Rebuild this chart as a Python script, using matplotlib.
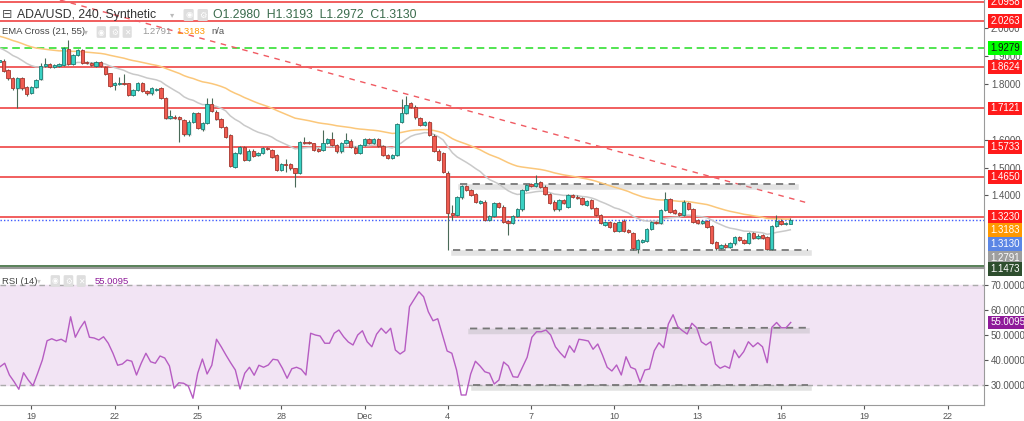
import numpy as np
import matplotlib
matplotlib.use('Agg')
import matplotlib.pyplot as plt
import matplotlib.transforms as mtransforms

W, H = 1024, 421

# 4h candles ADA/USD, last one = Dec 16 08:00
opens = [1.879, 1.884, 1.850, 1.820, 1.784, 1.820, 1.790, 1.769, 1.788, 1.817,
         1.865, 1.872, 1.862, 1.864, 1.868, 1.926, 1.872, 1.904, 1.922, 1.879,
         1.876, 1.866, 1.879, 1.862, 1.838, 1.796, 1.800, 1.805, 1.802, 1.760,
         1.778, 1.804, 1.776, 1.766, 1.780, 1.787, 1.751, 1.677, 1.683, 1.680,
         1.671, 1.619, 1.665, 1.697, 1.637, 1.661, 1.728, 1.701, 1.674, 1.644,
         1.617, 1.503, 1.551, 1.573, 1.527, 1.561, 1.544, 1.553, 1.571, 1.563,
         1.545, 1.491, 1.512, 1.512, 1.497, 1.482, 1.593, 1.591, 1.587, 1.567,
         1.563, 1.589, 1.601, 1.581, 1.558, 1.589, 1.597, 1.572, 1.554, 1.581,
         1.601, 1.587, 1.601, 1.578, 1.544, 1.534, 1.544, 1.664, 1.695, 1.731,
         1.719, 1.677, 1.653, 1.664, 1.615, 1.561, 1.551, 1.482, 1.336, 1.330,
         1.393, 1.434, 1.418, 1.404, 1.374, 1.378, 1.312, 1.326, 1.374, 1.360,
         1.308, 1.302, 1.326, 1.350, 1.420, 1.440, 1.435, 1.447, 1.432, 1.404,
         1.378, 1.350, 1.384, 1.360, 1.402, 1.396, 1.392, 1.366, 1.384, 1.354,
         1.330, 1.294, 1.306, 1.302, 1.274, 1.310, 1.276, 1.266, 1.207, 1.234,
         1.237, 1.279, 1.306, 1.300, 1.348, 1.386, 1.348, 1.338, 1.330, 1.372,
         1.352, 1.312, 1.300, 1.308, 1.290, 1.234, 1.212, 1.222, 1.214, 1.228,
         1.252, 1.240, 1.230, 1.266, 1.246, 1.258, 1.250, 1.207, 1.290, 1.310,
         1.298, 1.298]
closes = [1.886, 1.848, 1.820, 1.787, 1.820, 1.784, 1.764, 1.788, 1.814, 1.866,
          1.872, 1.862, 1.868, 1.872, 1.928, 1.872, 1.904, 1.922, 1.876, 1.874,
          1.867, 1.878, 1.864, 1.836, 1.793, 1.802, 1.805, 1.801, 1.760, 1.778,
          1.802, 1.776, 1.766, 1.784, 1.782, 1.749, 1.677, 1.685, 1.677, 1.673,
          1.619, 1.665, 1.697, 1.643, 1.661, 1.728, 1.704, 1.673, 1.647, 1.611,
          1.506, 1.551, 1.573, 1.527, 1.561, 1.542, 1.553, 1.569, 1.567, 1.537,
          1.491, 1.513, 1.509, 1.497, 1.482, 1.593, 1.587, 1.587, 1.563, 1.561,
          1.589, 1.601, 1.581, 1.558, 1.589, 1.598, 1.575, 1.554, 1.581, 1.601,
          1.587, 1.601, 1.578, 1.544, 1.534, 1.544, 1.656, 1.695, 1.726, 1.719,
          1.680, 1.653, 1.664, 1.617, 1.561, 1.527, 1.485, 1.336, 1.330, 1.393,
          1.434, 1.420, 1.402, 1.378, 1.380, 1.312, 1.326, 1.374, 1.360, 1.306,
          1.300, 1.326, 1.350, 1.420, 1.438, 1.435, 1.443, 1.432, 1.404, 1.374,
          1.350, 1.384, 1.372, 1.402, 1.396, 1.390, 1.368, 1.381, 1.354, 1.330,
          1.302, 1.306, 1.288, 1.274, 1.306, 1.272, 1.270, 1.210, 1.240, 1.240,
          1.280, 1.306, 1.300, 1.348, 1.386, 1.342, 1.336, 1.330, 1.378, 1.352,
          1.306, 1.300, 1.308, 1.288, 1.230, 1.210, 1.222, 1.214, 1.230, 1.252,
          1.240, 1.230, 1.266, 1.246, 1.256, 1.246, 1.207, 1.290, 1.310, 1.298,
          1.302, 1.313]
highs = [1.910, 1.888, 1.853, 1.824, 1.824, 1.826, 1.793, 1.792, 1.818, 1.874,
         1.892, 1.876, 1.872, 1.877, 1.932, 1.958, 1.908, 1.926, 1.925, 1.883,
         1.880, 1.882, 1.883, 1.865, 1.841, 1.806, 1.824, 1.836, 1.805, 1.782,
         1.806, 1.808, 1.780, 1.788, 1.786, 1.790, 1.754, 1.707, 1.687, 1.684,
         1.675, 1.669, 1.701, 1.700, 1.665, 1.748, 1.748, 1.705, 1.678, 1.648,
         1.620, 1.555, 1.577, 1.577, 1.565, 1.565, 1.557, 1.573, 1.575, 1.567,
         1.548, 1.517, 1.530, 1.515, 1.500, 1.597, 1.611, 1.595, 1.590, 1.571,
         1.635, 1.605, 1.626, 1.585, 1.593, 1.623, 1.601, 1.576, 1.585, 1.605,
         1.605, 1.605, 1.605, 1.582, 1.548, 1.548, 1.660, 1.745, 1.757, 1.735,
         1.723, 1.681, 1.668, 1.668, 1.619, 1.565, 1.555, 1.486, 1.366, 1.397,
         1.438, 1.438, 1.422, 1.408, 1.384, 1.382, 1.330, 1.378, 1.378, 1.364,
         1.312, 1.330, 1.354, 1.424, 1.442, 1.444, 1.473, 1.451, 1.436, 1.408,
         1.382, 1.388, 1.388, 1.406, 1.406, 1.400, 1.396, 1.385, 1.388, 1.358,
         1.334, 1.310, 1.310, 1.306, 1.310, 1.314, 1.280, 1.270, 1.244, 1.244,
         1.284, 1.310, 1.310, 1.352, 1.414, 1.390, 1.352, 1.342, 1.382, 1.376,
         1.356, 1.316, 1.312, 1.312, 1.294, 1.238, 1.226, 1.228, 1.234, 1.256,
         1.256, 1.244, 1.270, 1.270, 1.260, 1.262, 1.254, 1.294, 1.330, 1.314,
         1.306, 1.3193]
lows = [1.874, 1.844, 1.816, 1.778, 1.713, 1.780, 1.758, 1.765, 1.785, 1.814,
        1.862, 1.859, 1.858, 1.861, 1.865, 1.868, 1.868, 1.900, 1.872, 1.870,
        1.863, 1.862, 1.860, 1.832, 1.789, 1.778, 1.796, 1.797, 1.756, 1.756,
        1.774, 1.772, 1.762, 1.762, 1.776, 1.745, 1.673, 1.673, 1.673, 1.593,
        1.615, 1.615, 1.661, 1.639, 1.633, 1.657, 1.700, 1.669, 1.643, 1.607,
        1.502, 1.499, 1.547, 1.523, 1.523, 1.538, 1.540, 1.549, 1.563, 1.533,
        1.487, 1.487, 1.485, 1.493, 1.429, 1.478, 1.583, 1.583, 1.559, 1.557,
        1.559, 1.585, 1.577, 1.554, 1.554, 1.585, 1.571, 1.550, 1.550, 1.577,
        1.583, 1.583, 1.574, 1.540, 1.530, 1.530, 1.540, 1.660, 1.691, 1.715,
        1.676, 1.649, 1.649, 1.613, 1.557, 1.523, 1.481, 1.204, 1.312, 1.326,
        1.389, 1.416, 1.398, 1.374, 1.370, 1.308, 1.308, 1.322, 1.356, 1.302,
        1.258, 1.298, 1.322, 1.346, 1.416, 1.431, 1.431, 1.428, 1.400, 1.370,
        1.346, 1.346, 1.368, 1.356, 1.392, 1.386, 1.364, 1.362, 1.350, 1.326,
        1.298, 1.290, 1.284, 1.270, 1.270, 1.268, 1.266, 1.206, 1.195, 1.230,
        1.233, 1.275, 1.296, 1.296, 1.344, 1.338, 1.332, 1.326, 1.326, 1.348,
        1.302, 1.296, 1.296, 1.284, 1.226, 1.204, 1.208, 1.210, 1.210, 1.224,
        1.236, 1.226, 1.226, 1.242, 1.242, 1.242, 1.203, 1.203, 1.286, 1.294,
        1.294, 1.2972]

rsi = [37.3, 38.7, 34.0, 31.3, 28.3, 34.9, 32.0, 29.7, 34.7, 40.0,
       47.7, 48.5, 47.7, 48.3, 47.2, 57.3, 49.1, 52.7, 55.5, 49.1,
       48.8, 48.0, 49.3, 46.7, 42.7, 37.9, 38.4, 40.0, 39.5, 34.0,
       38.7, 42.7, 39.3, 38.7, 41.6, 40.8, 37.6, 28.7, 30.9, 30.7,
       29.6, 24.7, 34.7, 40.4, 34.4, 37.9, 48.3, 45.3, 42.0, 38.9,
       36.0, 28.4, 34.7, 37.1, 33.9, 37.9, 37.1, 38.0, 40.3, 40.0,
       36.7, 32.7, 36.5, 37.1, 36.3, 34.0, 50.7, 50.0, 49.6, 46.7,
       46.7, 50.7, 52.0, 49.3, 47.2,
       46.0, 50.0, 51.7, 47.3, 45.3, 50.3, 52.7, 50.7, 52.7, 44.0,
       42.4, 43.7, 61.3, 64.3, 67.3, 65.3, 59.3, 55.7, 56.5, 50.0,
       43.6, 42.7, 36.0, 26.0, 26.0, 34.4, 39.5, 37.6, 35.3, 34.7,
       30.4, 32.0, 39.2, 37.6, 33.3, 33.1, 37.1, 41.1, 49.1, 51.3,
       51.3, 52.0, 50.0, 45.3, 42.9, 40.9, 45.7, 43.1, 48.3, 48.0,
       47.6, 44.3, 46.4, 42.0, 37.1, 35.6, 38.0, 34.0, 41.3, 37.1,
       36.3, 31.1, 36.0, 36.4, 43.7, 46.9, 44.9, 54.4, 58.1, 53.3,
       51.7,
       50.4, 54.7, 52.9, 47.3, 46.0, 47.3, 38.4, 36.7, 37.6, 36.7,
       44.0, 40.9, 43.3, 47.3, 45.3, 46.9, 45.3, 38.9, 53.1, 55.0,
       52.9, 52.9, 55.0095]

red_levels = [2.0958, 2.0263, 1.8624, 1.7121, 1.5733, 1.4650, 1.3230]
green_level = 1.9279
bottom_level = 1.1473
last_price = 1.3130
ema_fast, ema_slow = 21, 55
ema_seed = [1.935, 1.975]   # values carried in from before the window
ema_last = [1.2791, 1.3183]

# days counted from Nov 19 00:00
last_day = 27 + 1 / 3
trend_days, trend_prices = [1.03, 27.97], [2.1013, 1.3729]
chan_top_days, chan_top = [15.44, 27.50], [1.441, 1.441]
chan_bot_days, chan_bot = [15.18, 27.97], [1.204, 1.204]
rsi_top_days, rsi_top = [15.80, 27.90], [52.6, 52.9]
rsi_bot_days, rsi_bot = [15.90, 27.97], [30.0, 30.0]

tick_days = [0, 3, 6, 9, 12, 15, 18, 21, 24, 27, 30, 33]
tick_labels = ['19', '22', '25', '28', 'Dec', '4', '7', '10', '13', '16', '19', '22']
price_ticks = [1.4, 1.5, 1.6, 1.8, 1.9, 2.0]
rsi_ticks = [30, 40, 50, 60, 70]

n = len(closes)
t = last_day - np.arange(n)[::-1] / 6.0
t_rsi = np.linspace(-1.127, 27.35, len(rsi))


def ema(vals, span, seed):
    k = 2.0 / (span + 1)
    out, e = [], seed
    for v in vals:
        e = e + k * (v - e)
        out.append(e)
    return out


plt.rcParams['font.family'] = ['Liberation Sans', 'DejaVu Sans']
fig = plt.figure(figsize=(W / 100, H / 100), dpi=100)
fig.patch.set_facecolor('white')

XLIM = (-1.127, 34.31)
ax = fig.add_axes([0, 1 - 268 / H, 984 / W, 268 / H])
ax2 = fig.add_axes([0, 1 - 405 / H, 984 / W, 136 / H], sharex=ax)

ax.set_xlim(*XLIM)
ax.set_ylim(1.1397, 2.1013)
ax2.set_ylim(22.0, 76.4)

for a in (ax, ax2):
    a.set_facecolor('none')
    for s in ('top', 'left'):
        a.spines[s].set_visible(False)
    a.spines['right'].set_color('#9a9a9a')
    a.spines['bottom'].set_color('#9a9a9a')
    a.yaxis.tick_right()
    a.tick_params(axis='y', labelsize=7, colors='#555555', length=3, pad=2, width=0.8)
ax.spines['bottom'].set_linewidth(1.5)

# price panel
for lv in red_levels:
    ax.axhline(lv, color='#ee3333', lw=1.1, zorder=2)
ax.axhline(green_level, color='#22dd22', lw=1.1, ls=(0, (5, 3)), zorder=2)
ax.axhline(bottom_level, color='#3a6b3a', lw=1.2, zorder=2)
ax.axhline(last_price, color='#3d5afe', lw=1, ls=(0, (1, 1.5)), zorder=2)
ax.plot(trend_days, trend_prices, color='#f05a62', lw=1, ls=(0, (4, 4)), zorder=2)

shadow = mtransforms.offset_copy(ax.transData, fig=fig, x=1, y=-3, units='dots')
for xs, ys in ((chan_top_days, chan_top), (chan_bot_days, chan_bot)):
    ax.plot(xs, ys, color='#b0b0b0', lw=4, alpha=0.35, transform=shadow, zorder=2)
    ax.plot(xs, ys, color='#777777', lw=1.3, ls=(0, (4, 3)), zorder=3)

ax.plot(t, ema(closes, ema_fast, ema_seed[0]), color='#c9c9c9', lw=1.1, zorder=3)
ax.plot(t, ema(closes, ema_slow, ema_seed[1]), color='#fbc77a', lw=1.1, zorder=3)

o = np.array(opens)
c = np.array(closes)
up = c >= o
body_col = np.where(up, '#3ad1c3', '#ef5b50')
edge_col = np.where(up, '#1f7d74', '#a8372f')
csh = mtransforms.offset_copy(ax.transData, fig=fig, x=1, y=-1, units='dots')
ax.bar(t, np.abs(c - o) + 0.002, bottom=np.minimum(o, c) - 0.001, width=0.16,
       color='#999999', alpha=0.22, transform=csh, zorder=3)
ax.vlines(t, lows, highs, color='#4a6a58', lw=0.8, zorder=4)
ax.bar(t, np.maximum(np.abs(c - o), 0.002), bottom=np.minimum(o, c), width=0.12,
       color=body_col, edgecolor=edge_col, linewidth=0.6, zorder=5)

ax.set_yticks(price_ticks)
ax.set_yticklabels(['%.4f' % v for v in price_ticks])
plt.setp(ax.get_xticklabels(), visible=False)
ax.tick_params(axis='x', length=0)

# right-side price tags: (value, face, text colour, shift in px)
tags = [(2.0958, '#ff1a1a', 'white', 0), (2.0263, '#ff1a1a', 'white', 0),
        (1.9279, '#00ff00', '#111111', 0), (1.8624, '#ff1a1a', 'white', 0),
        (1.7121, '#ff1a1a', 'white', 0), (1.5733, '#ff1a1a', 'white', 0),
        (1.4650, '#ff1a1a', 'white', 0), (1.3230, '#ff1a1a', 'white', 0),
        (ema_last[1], '#ff9800', 'white', -11.5), (last_price, '#5b86e5', 'white', -24),
        (ema_last[0], '#9e9e9e', 'white', -29), (bottom_level, '#2e4e2e', 'white', -3)]
for v, fc, tc, dy in tags:
    ax.annotate('%.4f' % v, xy=(1, v), xycoords=ax.get_yaxis_transform(),
                xytext=(4.5, dy * 0.72), textcoords='offset points', ha='left', va='center',
                fontsize=7, color=tc, annotation_clip=False, zorder=20,
                bbox=dict(boxstyle='square,pad=0.2', fc=fc, ec='none'))

# RSI panel
ax2.axhspan(30, 70, color='#f2e4f4', zorder=0)
ax2.axhline(70, color='#aaaaaa', lw=1, ls=(0, (4, 3)), zorder=1)
ax2.axhline(30, color='#aaaaaa', lw=1, ls=(0, (4, 3)), zorder=1)
shadow2 = mtransforms.offset_copy(ax2.transData, fig=fig, x=1, y=-3, units='dots')
for xs, ys in ((rsi_top_days, rsi_top), (rsi_bot_days, rsi_bot)):
    ax2.plot(xs, ys, color='#b0b0b0', lw=4, alpha=0.35, transform=shadow2, zorder=2)
    ax2.plot(xs, ys, color='#777777', lw=1.3, ls=(0, (4, 3)), zorder=3)
ax2.plot(t_rsi, rsi, color='#b65cc2', lw=1, zorder=4)
ax2.set_yticks(rsi_ticks)
ax2.set_yticklabels(['%.4f' % v for v in rsi_ticks])
ax2.annotate('%.4f' % rsi[-1], xy=(1, rsi[-1]), xycoords=ax2.get_yaxis_transform(),
             xytext=(4.5, 0), textcoords='offset points', ha='left', va='center',
             fontsize=7, color='white', annotation_clip=False, zorder=20,
             bbox=dict(boxstyle='square,pad=0.2', fc='#8e1a99', ec='none'))

ax2.set_xticks(tick_days)
ax2.set_xticklabels(tick_labels)
ax2.tick_params(axis='x', labelsize=6.5, colors='#555555', length=3, pad=2, width=0.8)
ax2.set_xlim(*XLIM)


def fx(x):
    return x / W


def fy(y):
    return 1 - y / H


# header texts
icon = dict(boxstyle='round,pad=0.18', fc='#dedede', ec='none')
fig.text(fx(2), fy(15), '\u229f', fontsize=9, color='#555555', va='center',
         family=['DejaVu Sans'])
fig.text(fx(17), fy(15), 'ADA/USD, 240, Synthetic', fontsize=8.8, color='#333333',
         va='center')
fig.text(fx(170), fy(15), '\u25be', fontsize=6, color='#bbbbbb', va='center',
         family=['DejaVu Sans'])
fig.text(fx(185), fy(15), '\u25c9', fontsize=6, color='white', va='center', bbox=icon,
         family=['DejaVu Sans'])
fig.text(fx(199), fy(15), '\u2699', fontsize=6, color='white', va='center', bbox=icon,
         family=['DejaVu Sans'])
fig.text(fx(213), fy(15), 'O1.2980  H1.3193  L1.2972  C1.3130', fontsize=8.8,
         color='#3a6b4c', va='center')

fig.text(fx(2), fy(32), 'EMA Cross (21, 55)', fontsize=6.8, color='#444444', va='center')
fig.text(fx(84), fy(32), '\u25be', fontsize=5.5, color='#bbbbbb', va='center',
         family=['DejaVu Sans'])
for i, g in enumerate(['\u25c9', '\u2699', '\u2715']):
    fig.text(fx(98 + 13 * i), fy(32), g, fontsize=5.5, color='white', va='center',
             bbox=icon, family=['DejaVu Sans'])
fig.text(fx(142), fy(32), '%.4f' % ema_last[0], fontsize=6.8, color='#999999', va='center')
fig.text(fx(176), fy(32), '%.4f' % ema_last[1], fontsize=6.8, color='#ff9800', va='center')
fig.text(fx(211), fy(32), 'n/a', fontsize=6.8, color='#555555', va='center')

fig.text(fx(2), fy(281), 'RSI (14)', fontsize=6.8, color='#444444', va='center')
fig.text(fx(37), fy(281), '\u25be', fontsize=5.5, color='#cccccc', va='center',
         family=['DejaVu Sans'])
for i, g in enumerate(['\u25c9', '\u2699', '\u2715']):
    fig.text(fx(52 + 13 * i), fy(281), g, fontsize=5.5, color='white', va='center',
             bbox=icon, family=['DejaVu Sans'])
fig.text(fx(95), fy(281), '%.4f' % rsi[-1], fontsize=6.8, color='#8e1a99', va='center')

fig.savefig('out.png', dpi=100)
